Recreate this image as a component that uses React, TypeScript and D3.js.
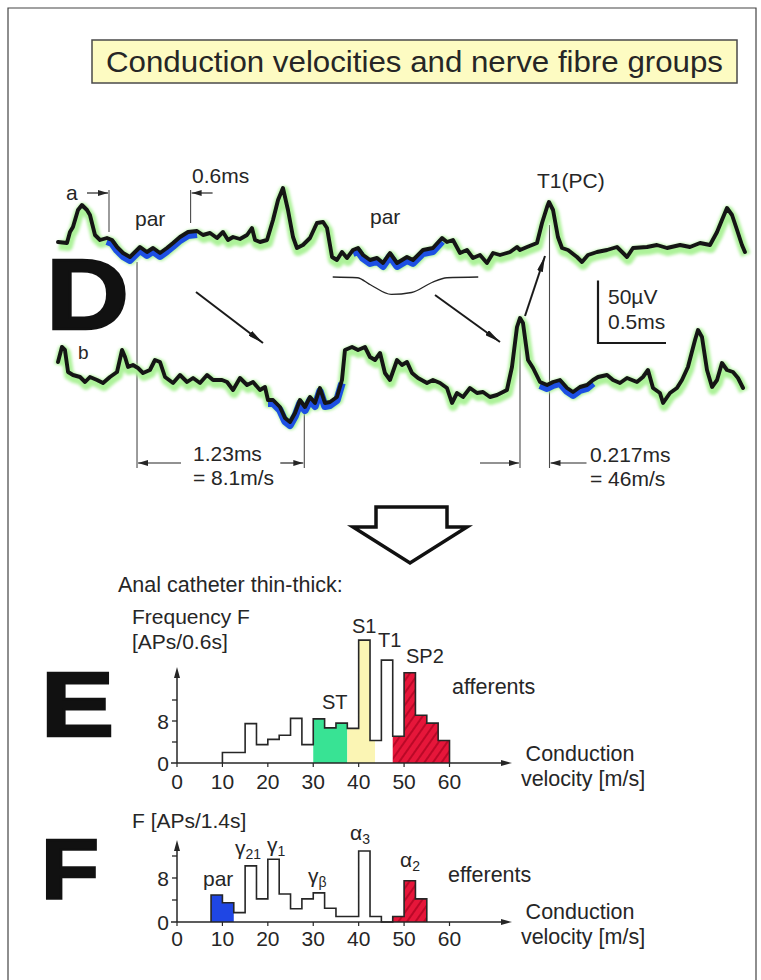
import React from 'react';
import * as d3 from 'd3';

// ---- D: two recordings of the same fibres (time in ms, amplitude in µV) ----
const traceA: [number, number][] = [
  [0.0, 2.4], [0.066, 1.6], [0.088, 10.4], [0.11, 14.4], [0.147, 28], [0.176, 32], [0.213, 28], [0.235, 24],
  [0.272, 8], [0.309, 4], [0.36, 5.6], [0.397, 4], [0.434, -1.6], [0.478, -6.4], [0.529, -9.6], [0.581, -4],
  [0.603, -1.6], [0.654, -5.6], [0.699, -2.4], [0.75, -6.4], [0.801, -2.4], [0.846, 1.6], [0.897, 6.4],
  [0.956, 10.4], [1.022, 11.2], [1.066, 8], [1.118, 9.6], [1.169, 5.6], [1.213, 10.4], [1.25, 4], [1.287, 6.4],
  [1.338, 4.8], [1.39, 8], [1.426, 13.6], [1.449, 4], [1.485, 2.4], [1.537, 4], [1.581, 20], [1.618, 36],
  [1.654, 45.6], [1.691, 28], [1.728, 6.4], [1.757, -2.4], [1.801, 0], [1.853, 5.6], [1.904, 17.6],
  [1.949, 18.4], [1.978, 13.6], [2.015, -9.6], [2.051, -12], [2.088, -5.6], [2.125, -10.4], [2.169, -4],
  [2.206, -2.4], [2.243, -8], [2.294, -12], [2.346, -10.4], [2.39, -14.4], [2.441, -6.4], [2.493, -14.4],
  [2.566, -9.6], [2.61, -12], [2.684, -4], [2.757, -2.4], [2.824, 5.6], [2.86, 2.4], [2.904, 4], [2.956, -6.4],
  [3.007, -4], [3.051, -10.4], [3.103, -8], [3.154, -14.4], [3.199, -6.4], [3.25, -8], [3.324, -5.6],
  [3.375, -1.6], [3.397, -4], [3.449, -1.6], [3.522, 1.6], [3.559, 17.6], [3.596, 30.4], [3.61, 34.4],
  [3.64, 28], [3.676, 6.4], [3.706, -2.4], [3.75, -4], [3.816, -9.6], [3.853, -13.6], [3.897, -8],
  [3.963, -5.6], [4.037, -4], [4.11, -1.6], [4.184, -9.6], [4.228, -2.4], [4.331, -1.6], [4.404, 0],
  [4.478, -2.4], [4.574, 0], [4.647, -1.6], [4.721, 1.6], [4.794, 0], [4.846, 10.4], [4.882, 20],
  [4.919, 29.6], [4.956, 24], [4.993, 12], [5.029, 0], [5.051, -5.6],
];

const traceB: [number, number][] = [
  [0.0, 14.4], [0.029, 26.4], [0.051, 24], [0.074, 6.4], [0.11, 4], [0.162, 2.4], [0.199, -1.6], [0.235, 2.4],
  [0.287, 0], [0.331, -2.4], [0.382, 2.4], [0.434, 6.4], [0.471, 24], [0.493, 18.4], [0.515, 10.4], [0.551, 12],
  [0.588, 9.6], [0.625, 5.6], [0.676, 8], [0.713, 16], [0.75, 14.4], [0.787, 2.4], [0.846, -2.4], [0.897, 4],
  [0.949, -1.6], [0.993, 1.6], [1.044, -2.4], [1.096, 4], [1.14, 0], [1.206, 0], [1.243, -1.6], [1.287, -8],
  [1.338, 1.6], [1.39, -4], [1.434, -1.6], [1.485, -8], [1.522, -5.6], [1.544, -16], [1.581, -16],
  [1.632, -21.6], [1.669, -30.4], [1.706, -33.6], [1.743, -26.4], [1.779, -16], [1.816, -21.6],
  [1.853, -13.6], [1.89, -18.4], [1.926, -6.4], [1.963, -18.4], [2.0, -17.6], [2.051, -13.6], [2.088, 0],
  [2.11, 24], [2.162, 26.4], [2.206, 24], [2.257, 26.4], [2.294, 18.4], [2.331, 16], [2.368, 21.6],
  [2.404, 5.6], [2.441, 0], [2.493, 16], [2.529, 12], [2.566, 14.4], [2.603, 5.6], [2.647, 1.6], [2.713, -2.4],
  [2.757, 0], [2.809, -2.4], [2.86, -6.4], [2.897, -18.4], [2.934, -10.4], [2.978, -13.6], [3.029, -6.4],
  [3.081, -10.4], [3.125, -9.6], [3.176, -13.6], [3.228, -12], [3.301, -8], [3.338, 10.4], [3.375, 42.4],
  [3.397, 49.6], [3.419, 45.6], [3.456, 16], [3.493, 9.6], [3.544, -1.6], [3.596, -4], [3.64, -1.6],
  [3.691, 0], [3.743, -6.4], [3.787, -9.6], [3.838, -5.6], [3.89, -4], [3.934, 0], [3.971, 2.4], [4.037, 4],
  [4.081, 0], [4.132, -2.4], [4.184, 1.6], [4.257, -1.6], [4.301, 2.4], [4.338, 8], [4.375, -6.4],
  [4.426, -10.4], [4.449, -18.4], [4.5, -10.4], [4.551, -6.4], [4.588, 0], [4.632, 10.4], [4.684, 32],
  [4.706, 40], [4.735, 34.4], [4.772, 8], [4.809, -5.6], [4.846, 0], [4.882, 13.6], [4.919, 8], [4.963, 6.4],
  [5.0, 1.6], [5.037, -6.4],
];

// slow "par" waves, marked in blue (time windows in ms)
const parWindowsA: [number, number][] = [[0.36, 1.03], [2.16, 2.83]];
const parWindowsB: [number, number][] = [[1.54, 2.1], [3.54, 3.97]];

// low-pass outline of the slow wave drawn under trace a
const slowWave: [number, number][] = [
  [2.02, -25.6], [2.2, -26.2], [2.3, -32], [2.45, -39.5], [2.6, -38], [2.75, -30], [2.86, -26.2], [3.09, -25.6],
];

// measured delays (ms) and velocities
const delayPar = 1.23;
const delayT1 = 0.217;
const delayMarker = 0.6;
const tParStart = 0.581;
const tT1Peak = 3.397;
const tMarker = 0.375;

// ---- E: afferent histogram (bin width 2.5 m/s) ----
const eBinStart = 10;
const eBinWidth = 2.5;
const eCounts = [2, 2, 7.5, 3.5, 4.5, 5.3, 8.5, 3.5, 8.4, 6.7, 7.6, 6.6, 23.4, 4.3, 19.6, 5.1, 17.2, 9.1, 7.6, 4.3];
const eGreen: [number, number] = [30, 37.5];
const eYellow: [number, number] = [37.5, 43.6];
const eRed: [number, number] = [47.5, 60];

// ---- F: efferent histogram ----
const fBinStart = 7.5;
const fBinWidth = 2.5;
const fCounts = [4.9, 3.5, 1.7, 10.2, 4.2, 11.4, 5.1, 2.4, 4.2, 5.3, 2.5, 1, 1, 12.9, 1, 0, 1, 7.5, 4.2];
const fBlue: [number, number] = [7.5, 12.5];
const fRed: [number, number] = [47.5, 55];

const velocityTicks = [0, 10, 20, 30, 40, 50, 60];
const countTicks = [4, 8, 12, 16];
const countLabels = [0, 8];

const FONT = 'Liberation Sans, Arial, Helvetica, sans-serif';
const INK = '#262626';

function stepPath(counts: number[], start: number, w: number, x: any, y: any) {
  let d = `M${x(start)},${y(0)}`;
  counts.forEach((c, i) => {
    d += `V${y(c)}H${x(start + (i + 1) * w)}`;
  });
  return d + `V${y(0)}`;
}

function stepArea(counts: number[], start: number, w: number, range: [number, number], x: any, y: any) {
  const [a, b] = range;
  const pts: [number, number][] = [[a, 0]];
  counts.forEach((c, i) => {
    const s = start + i * w;
    const lo = Math.max(s, a);
    const hi = Math.min(s + w, b);
    if (hi > lo) pts.push([lo, c], [hi, c]);
  });
  pts.push([b, 0]);
  return 'M' + pts.map((p) => `${x(p[0])},${y(p[1])}`).join('L') + 'Z';
}

function Trace({ data, windows, t, v }: any) {
  const line = d3.line<[number, number]>().x((d) => t(d[0])).y((d) => v(d[1]));
  const full = line(data) || '';
  return (
    <g>
      <path d={full} fill="none" stroke="#adf29a" strokeWidth={10} strokeLinejoin="round"
        transform="translate(1,3)" filter="url(#soft)" />
      {windows.map((w: [number, number], i: number) => (
        <path key={i} d={line(data.filter((p: [number, number]) => p[0] >= w[0] && p[0] <= w[1])) || ''}
          fill="none" stroke="#1d4fe3" strokeWidth={7.5} strokeLinejoin="round" transform="translate(0,3.2)" />
      ))}
      <path d={full} fill="none" stroke="#151515" strokeWidth={3.9} strokeLinejoin="round" strokeLinecap="round" />
    </g>
  );
}

function Histogram({ counts, start, w, fills, y, axisTop, yBase, title, titleY, labels, group, groupY, tickY }: any) {
  const x = d3.scaleLinear().domain([0, 60]).range([177, 449.5]);
  const x0 = x(0);
  const endX = 512;
  return (
    <g fontFamily={FONT} fill={INK}>
      {fills.map((f: any, i: number) => (
        <path key={i} d={stepArea(counts, start, w, f.range, x, y)} fill={f.color} stroke="none" />
      ))}
      <path d={stepPath(counts, start, w, x, y)} fill="none" stroke={INK} strokeWidth={1.6} />
      {/* axes */}
      <line x1={x0 - 6} x2={endX - 6} y1={y(0)} y2={y(0)} stroke={INK} strokeWidth={1.5} />
      <path d={`M${endX},${y(0)}L${endX - 11},${y(0) - 3}L${endX - 11},${y(0) + 3}Z`} fill={INK} />
      <line x1={x0} x2={x0} y1={y(0)} y2={axisTop + 8} stroke={INK} strokeWidth={1.5} />
      <path d={`M${x0},${axisTop}L${x0 - 3},${axisTop + 11}L${x0 + 3},${axisTop + 11}Z`} fill={INK} />
      {countTicks.filter((c) => y(c) > axisTop + 12).map((c) => (
        <line key={c} x1={x0 - 5} x2={x0} y1={y(c)} y2={y(c)} stroke={INK} strokeWidth={1.3} />
      ))}
      {countLabels.map((c) => (
        <text key={c} x={x0 - 8} y={y(c) + 7.5} fontSize={21} textAnchor="end">{c}</text>
      ))}
      {velocityTicks.map((v) => (
        <g key={v}>
          <line x1={x(v)} x2={x(v)} y1={y(0)} y2={y(0) + 4} stroke={INK} strokeWidth={1.2} />
          <text x={x(v)} y={tickY} fontSize={21} textAnchor="middle">{v}</text>
        </g>
      ))}
      <text x={580} y={yBase + 0} fontSize={21.5} textAnchor="middle">Conduction</text>
      <text x={583} y={yBase + 25} fontSize={21.5} textAnchor="middle">velocity [m/s]</text>
      {title.map((s: string, i: number) => (
        <text key={i} x={132} y={titleY + i * 24.5} fontSize={21}>{s}</text>
      ))}
      {labels}
      <text x={group[1]} y={groupY} fontSize={21.5}>{group[0]}</text>
    </g>
  );
}

export default function App() {
  const t = d3.scaleLinear().domain([0, 5]).range([58, 738]); // 136 px per ms
  const vA = d3.scaleLinear().domain([0, 50]).range([245, 182.5]);
  const vB = d3.scaleLinear().domain([0, 50]).range([380, 317.5]);
  const slow = d3.line<[number, number]>().x((d) => t(d[0])).y((d) => vA(d[1])).curve(d3.curveMonotoneX);

  const yE = d3.scaleLinear().domain([0, 8]).range([763, 721]);
  const yF = d3.scaleLinear().domain([0, 8]).range([922, 878]);

  const xPar1 = t(tParStart);
  const xPar2 = t(tParStart + delayPar);
  const xT1a = t(tT1Peak);
  const xT1b = t(tT1Peak + delayT1);
  const xM1 = t(tMarker);
  const xM2 = t(tMarker + delayMarker);
  const dimY = 463;

  // scale bar: 50 µV, 0.5 ms
  const sbX = 598;
  const sbY = 343;

  const txt = { fontFamily: FONT, fill: INK } as const;

  return (
    <svg width={761} height={980} style={{ position: 'absolute', left: 0, top: 0, background: '#fff' }}>
      <defs>
        <filter id="soft" x="-5%" y="-20%" width="110%" height="140%">
          <feGaussianBlur stdDeviation="1.4" />
        </filter>
        <pattern id="hatch" width="7" height="7" patternUnits="userSpaceOnUse" patternTransform="rotate(35)">
          <rect width="7" height="7" fill="#e6163a" />
          <line x1="1" y1="0" x2="1" y2="7" stroke="#a3001c" strokeWidth="1.3" />
        </pattern>
        <marker id="headThin" viewBox="0 0 10 6" refX="10" refY="3" markerWidth="10" markerHeight="6"
          markerUnits="userSpaceOnUse" orient="auto">
          <path d="M0,0L10,3L0,6Z" fill={INK} />
        </marker>
        <marker id="headBold" viewBox="0 0 16 6" refX="16" refY="3" markerWidth="16" markerHeight="6"
          markerUnits="userSpaceOnUse" orient="auto">
          <path d="M0,0L16,3L0,6Z" fill="#1a1a1a" />
        </marker>
      </defs>

      {/* page frame */}
      <path d="M8,980V8H756V980" fill="none" stroke="#444" strokeWidth={1.2} />

      {/* title */}
      <rect x={92} y={40} width={645} height={43} fill="#fdfbc2" stroke="#4a4a4a" strokeWidth={1.5} />
      <text x={106} y={72} fontSize={29} textLength={617} lengthAdjust="spacingAndGlyphs" {...txt}>
        Conduction velocities and nerve fibre groups
      </text>

      {/* panel letters */}
      <g fontFamily={FONT} fontWeight="bold" fill="#111" stroke="#111" strokeWidth={2.5}>
        <text x={46} y={329} fontSize={100} textLength={83} lengthAdjust="spacingAndGlyphs">D</text>
        <text x={41} y={736} fontSize={90} textLength={73} lengthAdjust="spacingAndGlyphs">E</text>
        <text x={41} y={899} fontSize={86} textLength={58} lengthAdjust="spacingAndGlyphs">F</text>
      </g>

      {/* D: slow-wave outline */}
      <path d={slow(slowWave) || ''} fill="none" stroke={INK} strokeWidth={1.3} />

      {/* measurement lines */}
      <g stroke="#4a4a4a" strokeWidth={1.1} fill="none">
        <line x1={xM1} x2={xM1} y1={190} y2={232} />
        <line x1={xM2} x2={xM2} y1={190} y2={223} />
        <line x1={xPar1} x2={xPar1} y1={262} y2={468} />
        <line x1={xPar2} x2={xPar2} y1={413} y2={468} />
        <line x1={xT1a} x2={xT1a} y1={343} y2={468} />
        <line x1={xT1b} x2={xT1b} y1={225} y2={468} />
      </g>
      <g stroke={INK} strokeWidth={1.2}>
        <line x1={xM1 - 22} x2={xM1 - 1} y1={193} y2={193} markerEnd="url(#headThin)" />
        <line x1={xM2 + 22} x2={xM2 + 1} y1={193} y2={193} markerEnd="url(#headThin)" />
        <line x1={xPar1 + 44} x2={xPar1 + 1} y1={dimY} y2={dimY} markerEnd="url(#headThin)" />
        <line x1={xPar2 - 24} x2={xPar2 - 1} y1={dimY} y2={dimY} markerEnd="url(#headThin)" />
        <line x1={xT1a - 40} x2={xT1a - 1} y1={dimY} y2={dimY} markerEnd="url(#headThin)" />
        <line x1={xT1b + 37} x2={xT1b + 1} y1={dimY} y2={dimY} markerEnd="url(#headThin)" />
      </g>

      <Trace data={traceA} windows={parWindowsA} t={t} v={vA} />
      <Trace data={traceB} windows={parWindowsB} t={t} v={vB} />

      {/* propagation arrows */}
      <g stroke="#1a1a1a" strokeWidth={2}>
        <line x1={196} y1={292} x2={263} y2={343} markerEnd="url(#headBold)" />
        <line x1={435} y1={295} x2={500} y2={342} markerEnd="url(#headBold)" />
        <line x1={525} y1={316} x2={545} y2={256} markerEnd="url(#headBold)" />
      </g>

      {/* scale bar */}
      <path d={`M${sbX},${sbY - (vA(0) - vA(50))}V${sbY}H${sbX + (t(0.5) - t(0))}`} fill="none" stroke="#1a1a1a" strokeWidth={2.2} />

      <g {...txt} fontSize={21}>
        <text x={66} y={200}>a</text>
        <text x={192} y={183}>0.6ms</text>
        <text x={135} y={226}>par</text>
        <text x={370} y={224}>par</text>
        <text x={537} y={188}>T1(PC)</text>
        <text x={608} y={304}>50µV</text>
        <text x={608} y={329}>0.5ms</text>
        <text x={78} y={359} fontSize={19}>b</text>
        <text x={193} y={461}>{delayPar}ms</text>
        <text x={193} y={485}>= 8.1m/s</text>
        <text x={590} y={462}>{delayT1}ms</text>
        <text x={590} y={486}>= 46m/s</text>
      </g>

      {/* transition arrow */}
      <path d="M376,507H447V527H467L410,563L353,527H376Z" fill="#fff" stroke="#111" strokeWidth={3.5} />

      <text x={118} y={592} fontSize={21.5} {...txt}>Anal catheter thin-thick:</text>

      <Histogram
        counts={eCounts} start={eBinStart} w={eBinWidth} y={yE} axisTop={667} yBase={761} tickY={789}
        title={['Frequency F', '[APs/0.6s]']} titleY={624}
        fills={[
          { range: eGreen, color: '#38e394' },
          { range: eYellow, color: '#fbf5b4' },
          { range: eRed, color: 'url(#hatch)' },
        ]}
        group={['afferents', 452]} groupY={694}
        labels={
          <g fontSize={20}>
            <text x={322} y={709}>ST</text>
            <text x={352} y={633}>S1</text>
            <text x={378} y={647}>T1</text>
            <text x={406} y={663}>SP2</text>
          </g>
        }
      />

      <Histogram
        counts={fCounts} start={fBinStart} w={fBinWidth} y={yF} axisTop={840} yBase={919} tickY={946}
        title={['F [APs/1.4s]']} titleY={828}
        fills={[
          { range: fBlue, color: '#1f46e4' },
          { range: fRed, color: 'url(#hatch)' },
        ]}
        group={['efferents', 448]} groupY={882}
        labels={
          <g fontSize={21}>
            <text x={203} y={886}>par</text>
            <text x={235} y={855}>γ<tspan fontSize={14} dy={4}>21</tspan></text>
            <text x={267} y={852}>γ<tspan fontSize={14} dy={4}>1</tspan></text>
            <text x={308} y={883}>γ<tspan fontSize={14} dy={4}>β</tspan></text>
            <text x={350} y={840}>α<tspan fontSize={14} dy={4}>3</tspan></text>
            <text x={400} y={867}>α<tspan fontSize={14} dy={4}>2</tspan></text>
          </g>
        }
      />
    </svg>
  );
}
